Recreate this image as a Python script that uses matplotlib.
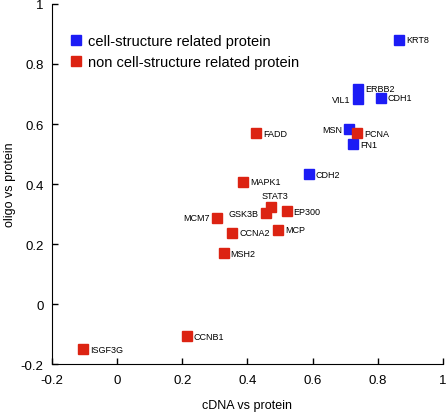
import matplotlib.pyplot as plt

plt.rcParams['font.family'] = ['Liberation Sans', 'DejaVu Sans']

# cell-structure related proteins
cs_names = ['KRT8', 'ERBB2', 'VIL1', 'CDH1', 'MSN', 'FN1', 'CDH2']
cs_x = [0.865, 0.739, 0.739, 0.810, 0.712, 0.724, 0.589]
cs_y = [0.880, 0.717, 0.683, 0.687, 0.583, 0.533, 0.433]

# non cell-structure related proteins
ncs_names = ['PCNA', 'FADD', 'MAPK1', 'STAT3', 'GSK3B', 'EP300', 'MCM7',
             'CCNA2', 'MCP', 'MSH2', 'CCNB1', 'ISGF3G']
ncs_x = [0.736, 0.426, 0.386, 0.473, 0.456, 0.520, 0.306,
         0.354, 0.495, 0.327, 0.214, -0.105]
ncs_y = [0.570, 0.570, 0.407, 0.323, 0.303, 0.310, 0.287,
         0.237, 0.247, 0.170, -0.107, -0.150]

# label placement: r = right, l = left, t = above
place = {'VIL1': 'l', 'MSN': 'l', 'GSK3B': 'l', 'MCM7': 'l', 'STAT3': 't'}

blue = '#1c1cf5'
red = '#dc2312'

fig = plt.figure(figsize=(4.46, 4.14), dpi=100)
ax = fig.add_axes([0.1166, 0.118, 0.8764, 0.870])

ax.plot(cs_x, cs_y, 's', color=blue, markersize=6.5, linestyle='none',
        label='cell-structure related protein')
ax.plot(ncs_x, ncs_y, 's', color=red, markersize=6.5, linestyle='none',
        label='non cell-structure related protein')

def annotate(names, xs, ys):
    for n, x, y in zip(names, xs, ys):
        p = place.get(n, 'r')
        if p == 'r':
            ax.annotate(n, (x, y), xytext=(5, 0), textcoords='offset points',
                        ha='left', va='center', fontsize=6.5)
        elif p == 'l':
            ax.annotate(n, (x, y), xytext=(-5, 0), textcoords='offset points',
                        ha='right', va='center', fontsize=6.5)
        else:
            ax.annotate(n, (x, y), xytext=(3, 5), textcoords='offset points',
                        ha='center', va='bottom', fontsize=6.5)

annotate(cs_names, cs_x, cs_y)
annotate(ncs_names, ncs_x, ncs_y)

ax.set_xlim(-0.2, 1)
ax.set_ylim(-0.2, 1)
ax.set_xticks([-0.2, 0, 0.2, 0.4, 0.6, 0.8, 1])
ax.set_yticks([-0.2, 0, 0.2, 0.4, 0.6, 0.8, 1])
ax.set_xticklabels(['-0.2', '0', '0.2', '0.4', '0.6', '0.8', '1'])
ax.set_yticklabels(['-0.2', '0', '0.2', '0.4', '0.6', '0.8', '1'])
ax.tick_params(direction='in', length=4, width=1, labelsize=9.5)
ax.tick_params(axis='x', pad=7)
ax.tick_params(axis='y', pad=6)
ax.spines['top'].set_visible(False)
ax.spines['right'].set_visible(False)
ax.set_xlabel('cDNA vs protein', fontsize=9, va='center')
ax.set_ylabel('oligo vs protein', fontsize=9, va='center')
ax.xaxis.set_label_coords(0.5, -0.114)
ax.yaxis.set_label_coords(-0.107, 0.5)

ax.legend(loc='upper left', bbox_to_anchor=(0.012, 0.952), frameon=False,
          fontsize=10.5, handlelength=0.8, handletextpad=0.45, labelspacing=0.45,
          markerscale=1.1)

fig.savefig('out.png', dpi=100)
